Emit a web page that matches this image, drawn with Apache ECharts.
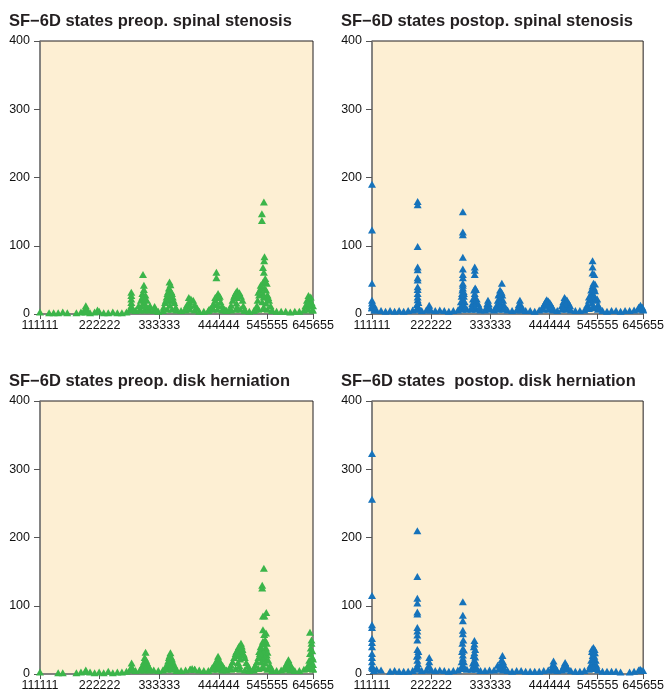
<!DOCTYPE html>
<html>
<head>
<meta charset="utf-8">
<script src="https://cdn.jsdelivr.net/npm/echarts@6/dist/echarts.min.js"></script>
<style>
  html, body { margin: 0; padding: 0; background: #fff; }
  #chart { width: 667px; height: 697px; }
</style>
</head>
<body>
<div id="chart"></div>
<script>
// SF-6D states ranked 0..17999 (111111 .. 645655)
const stateTicks = [0, 3931, 7862, 11793, 14974, 17999];
const stateLabels = ['111111', '222222', '333333', '444444', '545555', '645655'];

// low-count band, one state every 300 ranks
const baseRanks = [0, 300, 600, 900, 1200, 1500, 1800, 2100, 2400, 2700,
  3000, 3300, 3600, 3900, 4200, 4500, 4800, 5100, 5400, 5700,
  6000, 6300, 6600, 6900, 7200, 7500, 7800, 8100, 8400, 8700,
  9000, 9300, 9600, 9900, 10200, 10500, 10800, 11100, 11400, 11700,
  12000, 12300, 12600, 12900, 13200, 13500, 13800, 14100, 14400, 14700,
  15000, 15300, 15600, 15900, 16200, 16500, 16800, 17100, 17400, 17700, 17999];

const ssPreBase = [3, null, 2, 2, 2, 3, 2, null, 2, 3,
  3, 2, 3, 4, 2, 2, 3, 2, 2, 3,
  6, 5, 6, 6, 6, 5, 4, 5, 7, 7,
  6, 5, 6, 7, 6, 4, 4, 5, 7, 7,
  6, 5, 6, 7, 7, 5, 4, 5, 7, 8,
  7, 5, 4, 4, 4, 3, 4, 4, 6, 7, 6];
const ssPostBase = [9, 6, 5, 4, 5, 4, 5, 4, 5, 6,
  7, 5, 6, 6, 5, 6, 5, 4, 5, 6,
  7, 7, 7, 7, 6, 6, 7, 6, 7, 7,
  6, 5, 6, 6, 5, 5, 4, 6, 7, 7,
  6, 5, 7, 7, 6, 5, 5, 6, 8, 9,
  7, 5, 4, 5, 5, 4, 5, 5, 6, 7, 7];
const dhPreBase = [3, null, null, null, 2, 2, null, null, 2, 3,
  4, 3, 2, 3, 2, 4, 2, 3, 3, 4,
  6, 5, 6, 6, 6, 6, 5, 6, 7, 7,
  5, 5, 6, 7, 7, 6, 5, 5, 7, 7,
  6, 6, 7, 8, 7, 6, 5, 6, 8, 9,
  7, 5, 5, 6, 7, 6, 5, 5, 7, 8, 7];
const dhPostBase = [10, 7, 6, null, 4, 5, 4, 4, 4, 5,
  7, 5, 6, 6, 5, 6, 5, 4, 5, 6,
  8, 7, 7, 7, 5, 5, 6, 6, 7, 6,
  5, 4, 5, 5, 4, 4, 4, 4, 5, 6,
  6, 5, 6, 7, 5, 4, 4, 5, 7, 8,
  6, 4, 4, 4, 4, 3, null, 3, 4, 6, 5];

// [state rank, number of patients]
const ssPrePeaks = [
  [3020,12],[2950,7],[3100,7],[3020,4],[3790,6],
  [6020,32],[6020,27],[6020,22],[6020,17],[6020,12],[5950,8],[6100,8],
  [6790,58],[6850,42],[6850,36],[6750,30],[6950,28],[6850,24],[6650,20],[7050,20],[6850,16],[6700,12],[7000,12],[6600,8],[7150,8],
  [6500,12],[7250,12],[6750,25],[6950,22],
  [7555,11],[7500,7],[7650,6],
  [8540,47],[8600,43],[8500,38],[8450,33],[8650,33],[8550,28],[8350,25],[8750,25],[8550,20],[8250,17],[8850,17],[8550,13],[8150,10],[8950,10],
  [8400,30],[8700,30],[8300,20],[8800,20],
  [9810,24],[9950,22],[10100,20],[9850,18],[9700,14],[10200,14],[9900,12],[9600,9],[10350,9],
  [11630,61],[11630,53],[11740,30],[11650,26],[11800,24],[11550,20],[11900,18],[11450,15],[12000,12],[11350,11],[11700,14],[11250,8],[12150,7],
  [11550,24],[11850,26],[11150,7],[12250,6],
  [13000,34],[12900,31],[13150,31],[12800,26],[13250,26],[13000,24],[12700,20],[13350,20],[12950,16],[12600,13],[13400,12],[13000,10],[12550,8],[13500,7],
  [12850,28],[13100,28],
  [14760,164],[14630,147],[14630,137],[14800,84],[14780,78],[14700,68],[14760,61],[14850,52],[14950,45],[14700,46],[14600,40],[14800,38],[14500,35],[14900,35],
  [14700,30],[14450,28],[15000,28],[14750,25],[14350,20],[15100,20],[14650,18],[14900,16],[14300,12],[15200,12],[14750,10],[14200,7],[15300,6],
  [14550,42],[14850,48],[14400,32],[15050,24],
  [17700,27],[17800,22],[17600,20],[17900,17],[17750,14],[17500,12],[17999,12],[17650,8],[17950,6],
  [17850,25],[17650,17]
];
const ssPostPeaks = [
  [0,190],[0,123],[0,45],[0,20],[0,16],[0,12],[0,9],[80,10],[100,14],[150,6],
  [3030,165],[3030,160],[3030,99],[3030,69],[3030,65],[3030,53],[3030,50],[3030,40],[3030,36],[3030,30],[3030,25],[3030,21],[3080,17],[2980,14],[3050,11],[3100,8],[2950,7],
  [3800,13],[3750,8],[3850,7],
  [6030,150],[6030,120],[6030,116],[6030,83],[6030,66],[6030,58],[6030,53],[6030,38],[6000,35],[6080,33],[6030,30],[5950,26],[6100,26],[6030,22],[5900,18],[6150,18],[6030,14],[5850,10],[6200,10],
  [6030,45],[6030,42],[5980,30],[6100,30],
  [6820,69],[6820,64],[6820,58],[6850,38],[6780,35],[6900,36],[6820,30],[6820,25],[6700,22],[6950,22],[6820,18],[6650,15],[7050,15],[6820,12],[6600,10],[7150,10],
  [7700,20],[7650,15],[7750,15],[7600,10],[7800,10],
  [8620,45],[8500,35],[8550,31],[8400,28],[8650,28],[8500,24],[8350,20],[8700,20],[8500,17],[8300,14],[8750,14],[8500,11],[8250,9],[8800,9],
  [8450,30],[8600,32],
  [9820,20],[9750,14],[9900,13],[9700,9],[9950,9],
  [11600,21],[11700,19],[11500,17],[11800,17],[11400,13],[11900,13],[11650,13],[11300,9],[12000,9],[11550,19],
  [12780,24],[12850,22],[12950,20],[12700,18],[13050,16],[12850,14],[12600,12],[13150,12],[12700,9],[13100,8],
  [14640,78],[14640,69],[14640,60],[14760,58],[14700,45],[14800,44],[14640,41],[14740,38],[14600,32],[14700,28],[14500,27],[14800,25],[14650,22],[14400,20],[14900,20],
  [14600,16],[14300,14],[15000,14],[14700,12],[14250,9],[15100,9],
  [14550,35],[14800,34],[14400,25],[14950,22],
  [17820,13],[17700,10],[17950,10],[17999,6]
];
const dhPrePeaks = [
  [3020,6],
  [6040,16],[6040,11],[5980,8],[6100,8],
  [6960,32],[6900,24],[7000,20],[6850,18],[7050,17],[6950,14],[6750,12],[7150,12],[6950,9],[6650,8],[7250,8],
  [8600,31],[8550,27],[8650,25],[8600,21],[8450,19],[8750,18],[8600,16],[8350,13],[8850,13],[8600,11],[8250,9],[8950,9],
  [8500,24],[8700,22],
  [10030,8],[9900,7],[10200,7],
  [11740,26],[11700,22],[11800,21],[11600,17],[11900,17],[11750,14],[11450,12],[12050,12],[11750,10],[11350,9],[12150,8],
  [13250,45],[13300,41],[13150,38],[13350,36],[13000,34],[13200,32],[12900,30],[13400,30],[13100,27],[12800,24],[13500,24],[13200,22],[12700,18],[13600,17],[13050,17],
  [12600,13],[13700,12],[13150,12],[12500,9],[13800,9],
  [13100,40],[13300,38],[12950,33],[13450,28],
  [14760,155],[14650,130],[14650,126],[14920,90],[14700,85],[14800,85],[14700,65],[14780,58],[14900,60],[14850,46],[14950,45],[14650,44],[14900,38],[14600,35],[14800,36],
  [14750,32],[14500,30],[14950,28],[14650,27],[14400,24],[14850,24],[14700,22],[15050,20],[14300,18],[14600,18],[14850,16],[14200,13],[15150,13],[14700,12],[14100,9],[15250,9],
  [14550,40],[14850,50],[14700,48],[14450,33],[15000,32],
  [16380,21],[16300,17],[16450,16],[16200,13],[16550,12],[16350,10],[16100,8],[16650,8],
  [17800,61],[17900,50],[17900,45],[17850,38],[17950,34],[17800,30],[17950,25],[17999,22],[17750,20],[17900,18],[17700,14],[17999,14],[17800,11],[17600,9],[17999,8]
];
const dhPostPeaks = [
  [0,323],[0,256],[0,115],[0,72],[0,68],[0,52],[0,46],[0,40],[0,30],[0,24],[0,18],[0,12],[60,8],[120,5],
  [3010,210],[3010,143],[3010,111],[3010,104],[3010,91],[3010,88],[3010,68],[3010,63],[3010,57],[3010,50],[3010,36],[3080,33],[3010,20],[3050,15],[2950,10],[3100,8],
  [2980,26],[3050,28],
  [3800,24],[3800,18],[3750,12],[3850,10],
  [6030,106],[6030,86],[6030,78],[6030,64],[6030,59],[6030,37],[6100,35],[5980,33],[6030,28],[6030,23],[5950,18],[6100,18],[6030,13],[5900,9],[6150,9],
  [6000,45],[6060,50],
  [6800,49],[6800,44],[6760,40],[6850,36],[6800,31],[6750,27],[6850,25],[6800,20],[6700,16],[6900,16],[6800,12],[6650,9],[6950,9],
  [8340,13],
  [8660,27],[8600,21],[8700,18],[8560,15],[8750,14],[8650,11],[8500,9],[8800,8],
  [12050,19],[12000,14],[12100,13],[11950,9],[12150,9],
  [12820,17],[12750,13],[12900,13],[12820,9],[12650,8],[13000,8],
  [14700,39],[14620,37],[14780,36],[14700,31],[14650,27],[14760,26],[14700,22],[14550,20],[14850,20],[14700,16],[14500,13],[14900,13],[14700,10],[14450,8],[14950,8],
  [14600,33],[14800,31],
  [17800,7],[17900,5]
];

const green = '#3bb54a';
const blue = '#1673bb';

const panels = [
  { title: 'SF\u22126D states preop. spinal stenosis', base: ssPreBase, peaks: ssPrePeaks, color: green, left: 40, top: 41 },
  { title: 'SF\u22126D states postop. spinal stenosis', base: ssPostBase, peaks: ssPostPeaks, color: blue, left: 372, top: 41 },
  { title: 'SF\u22126D states preop. disk herniation', base: dhPreBase, peaks: dhPrePeaks, color: green, left: 40, top: 401 },
  { title: 'SF\u22126D states  postop. disk herniation', base: dhPostBase, peaks: dhPostPeaks, color: blue, left: 372, top: 401 }
];

function panelData(p) {
  const pts = [];
  baseRanks.forEach((r, i) => {
    if (p.base[i] != null) pts.push([r, p.base[i]]);
  });
  return pts.concat(p.peaks);
}

const font = '"Liberation Sans", Arial, Helvetica, sans-serif';
const chart = echarts.init(document.getElementById('chart'));

chart.setOption({
  animation: false,
  backgroundColor: '#fff',
  title: panels.map(p => ({
    text: p.title,
    left: p.left - 31,
    top: p.top - 28,
    padding: 0,
    textStyle: { fontFamily: font, fontSize: 16.5, fontWeight: 'bold', color: '#231f20' }
  })),
  grid: panels.map(p => ({
    left: p.left, top: p.top, width: 273, height: 273,
    show: true, backgroundColor: '#fdefd3', borderColor: '#231f20', borderWidth: 1
  })),
  xAxis: panels.map((p, i) => ({
    type: 'value', gridIndex: i, min: 0, max: 17999,
    splitLine: { show: false },
    axisLine: { lineStyle: { color: '#808080', width: 1.5 } },
    axisTick: { customValues: stateTicks, length: 5, lineStyle: { color: '#555' } },
    axisLabel: {
      customValues: stateTicks,
      formatter: v => stateLabels[stateTicks.indexOf(v)],
      fontFamily: font, fontSize: 12.5, color: '#111', margin: 5
    }
  })),
  yAxis: panels.map((p, i) => ({
    type: 'value', gridIndex: i, min: 0, max: 400, interval: 100,
    splitLine: { show: false },
    axisLine: { show: true, lineStyle: { color: '#808080', width: 1.5 } },
    axisTick: { show: true, length: 6, lineStyle: { color: '#555' } },
    axisLabel: { fontFamily: font, fontSize: 12.5, color: '#111', margin: 10 }
  })),
  series: panels.map((p, i) => ({
    type: 'scatter', xAxisIndex: i, yAxisIndex: i,
    symbol: 'triangle', symbolSize: [8, 7],
    itemStyle: { color: p.color, opacity: 1 },
    silent: true,
    data: panelData(p)
  }))
});
</script>
</body>
</html>
